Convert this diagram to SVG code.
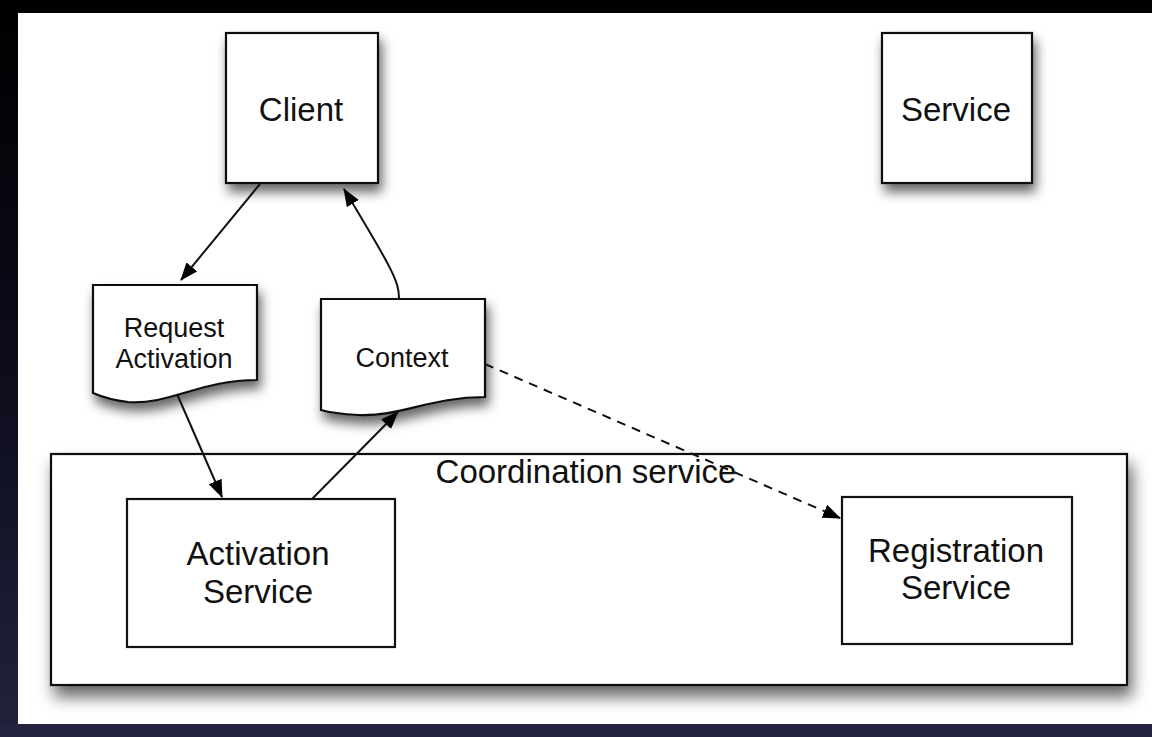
<svg xmlns="http://www.w3.org/2000/svg" width="1152" height="737" viewBox="0 0 1152 737">
  <defs>
    <linearGradient id="frameLeft" x1="0" y1="0" x2="0" y2="1">
      <stop offset="0" stop-color="#000000"/>
      <stop offset="0.5" stop-color="#0c0c1c"/>
      <stop offset="1" stop-color="#22223d"/>
    </linearGradient>
    <filter id="shadow" x="-20%" y="-20%" width="150%" height="160%">
      <feDropShadow dx="3" dy="8" stdDeviation="6" flood-color="#000" flood-opacity="0.6"/>
    </filter>
    <filter id="shadowBig" x="-10%" y="-20%" width="125%" height="150%">
      <feDropShadow dx="4" dy="11" stdDeviation="8" flood-color="#000" flood-opacity="0.6"/>
    </filter>
    <marker id="arrow" viewBox="0 0 18 14" markerWidth="18" markerHeight="14" refX="17" refY="7" orient="auto" markerUnits="userSpaceOnUse">
      <path d="M0,0 L18,7 L0,14 z" fill="#000"/>
    </marker>
  </defs>
  <style>
    .box { fill: #ffffff; stroke: #111111; stroke-width: 2.2; }
    .label { font-family: "Liberation Sans", Arial, sans-serif; font-size: 33px; fill: #111111; text-anchor: middle; }
    .small { font-size: 27px; }
    .edge { fill: none; stroke: #111111; stroke-width: 2; marker-end: url(#arrow); }
    .dashed { stroke-dasharray: 9 7; }
  </style>

  <!-- page and frame -->
  <rect x="0" y="0" width="1152" height="737" fill="#ffffff"/>
  <rect x="0" y="0" width="1152" height="13" fill="#000000"/>
  <rect x="0" y="0" width="18" height="737" fill="url(#frameLeft)"/>
  <rect x="0" y="724" width="1152" height="13" fill="#23233f"/>

  <!-- coordination service container -->
  <g id="coordination-service">
    <rect class="box" x="51" y="454" width="1076" height="231" filter="url(#shadowBig)"/>
    <text class="label" x="586" y="483">Coordination service</text>
  </g>

  <g id="client">
    <rect class="box" x="226" y="33" width="152" height="150" filter="url(#shadow)"/>
    <text class="label" x="301" y="121">Client</text>
  </g>

  <g id="service">
    <rect class="box" x="882" y="33" width="150" height="150" filter="url(#shadow)"/>
    <text class="label" x="956" y="121">Service</text>
  </g>

  <g id="request-activation">
    <path class="box" filter="url(#shadow)" d="M93,285 H257 V380 C200,380 170,405 128,402 C110,400 100,396 93,393 Z"/>
    <text class="label small" x="174" y="337">Request</text>
    <text class="label small" x="174" y="368">Activation</text>
  </g>

  <g id="context">
    <path class="box" filter="url(#shadow)" d="M321,299 H485 V397 C430,397 400,417 358,415 C340,414 328,412 321,410 Z"/>
    <text class="label small" x="402" y="367">Context</text>
  </g>

  <g id="activation-service">
    <rect class="box" x="127" y="499" width="268" height="148"/>
    <text class="label" x="258" y="565">Activation</text>
    <text class="label" x="258" y="603">Service</text>
  </g>

  <g id="registration-service">
    <rect class="box" x="842" y="497" width="230" height="147"/>
    <text class="label" x="956" y="562">Registration</text>
    <text class="label" x="956" y="599">Service</text>
  </g>

  <!-- connectors -->
  <g id="connectors">
    <path class="edge" d="M260,184 L181,280"/>
    <path class="edge" d="M399,298 C399,282 393,270 344,189"/>
    <path class="edge" d="M177,394 L222,497"/>
    <path class="edge" d="M312,499 L398,412"/>
    <path class="edge dashed" d="M485,364 L840,518"/>
  </g>
</svg>
